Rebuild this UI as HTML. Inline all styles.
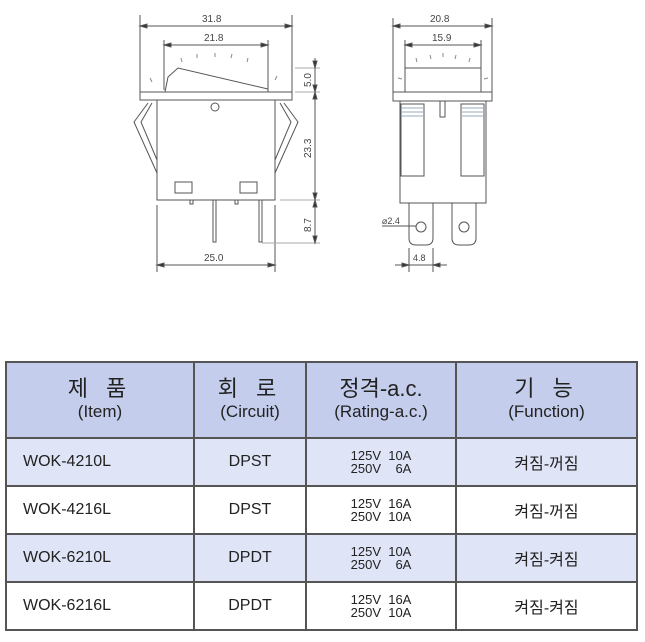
<!DOCTYPE html>
<html><head><meta charset="utf-8"><style>
body{margin:0;background:#fff;width:645px;height:642px;overflow:hidden;position:relative;font-family:"Liberation Sans","Noto Sans CJK KR",sans-serif}
svg{position:absolute;left:0;top:0}
table{position:absolute;left:5px;top:361px;width:633px;border-collapse:collapse}
td{border:2px solid #555;text-align:center;color:#222;padding:0;font-size:16px}
tr.h td{height:74px;background:#c5cdec;font-size:17px;line-height:21px}
tr.h td .k{font-size:22px;letter-spacing:6px}
tr.r td{height:46px}
tr.b td{background:#dfe4f6}
td.l{text-align:left;padding-left:16px}
td.s{font-size:13px;line-height:13px}
</style></head><body>
<svg width="645" height="300" viewBox="0 0 645 300" fill="none" stroke="#555" stroke-width="1" font-family="Liberation Sans" font-size="10">
<g>
<line x1="140" y1="26" x2="292" y2="26"/><line x1="140" y1="15" x2="140" y2="92"/><line x1="292" y1="15" x2="292" y2="92"/>
<polygon points="140,26 147,24 147,28" fill="#333"/><polygon points="292,26 285,24 285,28" fill="#333"/>
<text x="202" y="22" fill="#444" stroke="none">31.8</text>
<line x1="164" y1="45" x2="268" y2="45"/><line x1="164" y1="40" x2="164" y2="90"/><line x1="268" y1="40" x2="268" y2="90"/>
<polygon points="164,45 171,43 171,47" fill="#333"/><polygon points="268,45 261,43 261,47" fill="#333"/>
<text x="204" y="41" fill="#444" stroke="none">21.8</text>
<path d="M165,92 L168,77 L178,68 L268,89 L268,92"/>
<path d="M150,78 l2,4 M181,58 l1,4 M197,54 l0,4 M215,53 l0,4 M232,54 l-1,4 M248,58 l-1,4 M277,76 l-2,4" stroke="#888"/>
<rect x="140" y="92" width="152" height="8"/>
<rect x="157" y="100" width="118" height="100"/>
<circle cx="215" cy="107" r="4"/>
<path d="M148,103 L134,122 L157,173 M152,103 L141,122 L157,160"/>
<path d="M284,103 L298,122 L275,173 M280,103 L291,122 L275,160"/>
<rect x="175" y="182" width="17" height="11"/><rect x="240" y="182" width="17" height="11"/>
<path d="M213,200 V242 h3 V200 M259,200 V242 h3 V200"/>
<path d="M190,200 v4 h3 v-4 M235,200 v4 h3 v-4"/>
<line x1="157" y1="205" x2="157" y2="272"/><line x1="275" y1="205" x2="275" y2="272"/>
<line x1="157" y1="265" x2="275" y2="265"/>
<polygon points="157,265 164,263 164,267" fill="#333"/><polygon points="275,265 268,263 268,267" fill="#333"/>
<text x="204" y="261" fill="#444" stroke="none">25.0</text>
<line x1="315" y1="58" x2="315" y2="243"/>
<line x1="295" y1="68" x2="320" y2="68" stroke="#aaa"/><line x1="295" y1="92" x2="320" y2="92" stroke="#aaa"/>
<line x1="280" y1="200" x2="320" y2="200" stroke="#aaa"/><line x1="262" y1="243" x2="320" y2="243" stroke="#aaa"/>
<polygon points="315,68 313,61 317,61" fill="#333"/><polygon points="315,92 313,85 317,85" fill="#333"/>
<polygon points="315,92 313,99 317,99" fill="#333"/><polygon points="315,200 313,193 317,193" fill="#333"/>
<polygon points="315,200 313,207 317,207" fill="#333"/><polygon points="315,243 313,236 317,236" fill="#333"/>
<text transform="translate(311,87) rotate(-90)" fill="#444" stroke="none">5.0</text>
<text transform="translate(311,158) rotate(-90)" fill="#444" stroke="none">23.3</text>
<text transform="translate(311,232) rotate(-90)" fill="#444" stroke="none">8.7</text>
</g>
<g>
<line x1="393" y1="26" x2="492" y2="26"/><line x1="393" y1="18" x2="393" y2="92"/><line x1="492" y1="18" x2="492" y2="92"/>
<polygon points="393,26 400,24 400,28" fill="#333"/><polygon points="492,26 485,24 485,28" fill="#333"/>
<text x="430" y="22" fill="#444" stroke="none">20.8</text>
<line x1="405" y1="45" x2="481" y2="45"/><line x1="405" y1="40" x2="405" y2="68"/><line x1="481" y1="40" x2="481" y2="68"/>
<polygon points="405,45 412,43 412,47" fill="#333"/><polygon points="481,45 474,43 474,47" fill="#333"/>
<text x="432" y="41" fill="#444" stroke="none">15.9</text>
<path d="M416,58 l1,4 M430,55 l1,4 M443,53 v4 M456,55 l-1,4 M470,58 l-1,4 M398,78 l4,1 M488,78 l-4,1" stroke="#888"/>
<rect x="405" y="68" width="76" height="24"/>
<rect x="393" y="92" width="99" height="9"/>
<rect x="400" y="101" width="86" height="102"/>
<rect x="401" y="104" width="23" height="72"/><rect x="461" y="104" width="23" height="72"/>
<path d="M401,108 h23 M401,112 h23 M401,116 h23 M461,108 h23 M461,112 h23 M461,116 h23" stroke="#9ab"/>
<rect x="440" y="101" width="5" height="16"/>
<path d="M409,203 V238 q0,7 7,7 h10 q7,0 7,-7 V203"/>
<path d="M452,203 V238 q0,7 7,7 h10 q7,0 7,-7 V203"/>
<circle cx="421" cy="227" r="5"/><circle cx="464" cy="227" r="5"/>
<text x="382" y="224" fill="#444" stroke="none" font-size="9">⌀2.4</text>
<line x1="382" y1="226" x2="416" y2="226"/>
<line x1="409" y1="248" x2="409" y2="272"/><line x1="433" y1="248" x2="433" y2="272"/>
<line x1="395" y1="265" x2="447" y2="265"/>
<polygon points="409,265 402,263 402,267" fill="#333"/><polygon points="433,265 440,263 440,267" fill="#333"/>
<text x="413" y="261" fill="#444" stroke="none" font-size="9">4.8</text>
</g>
</svg>
<table>
<tr class="h"><td style="width:186px"><span class="k">제 품</span><br>(Item)</td><td style="width:110px"><span class="k">회 로</span><br>(Circuit)</td><td style="width:148px"><span class="k" style="letter-spacing:0">정격-a.c.</span><br>(Rating-a.c.)</td><td><span class="k">기 능</span><br>(Function)</td></tr>
<tr class="r b"><td class="l">WOK-4210L</td><td>DPST</td><td class="s">125V&nbsp;&nbsp;10A<br>250V&nbsp;&nbsp;&nbsp;&nbsp;6A</td><td>켜짐-꺼짐</td></tr>
<tr class="r"><td class="l">WOK-4216L</td><td>DPST</td><td class="s">125V&nbsp;&nbsp;16A<br>250V&nbsp;&nbsp;10A</td><td>켜짐-꺼짐</td></tr>
<tr class="r b"><td class="l">WOK-6210L</td><td>DPDT</td><td class="s">125V&nbsp;&nbsp;10A<br>250V&nbsp;&nbsp;&nbsp;&nbsp;6A</td><td>켜짐-켜짐</td></tr>
<tr class="r"><td class="l">WOK-6216L</td><td>DPDT</td><td class="s">125V&nbsp;&nbsp;16A<br>250V&nbsp;&nbsp;10A</td><td>켜짐-켜짐</td></tr>
</table>
</body></html>
